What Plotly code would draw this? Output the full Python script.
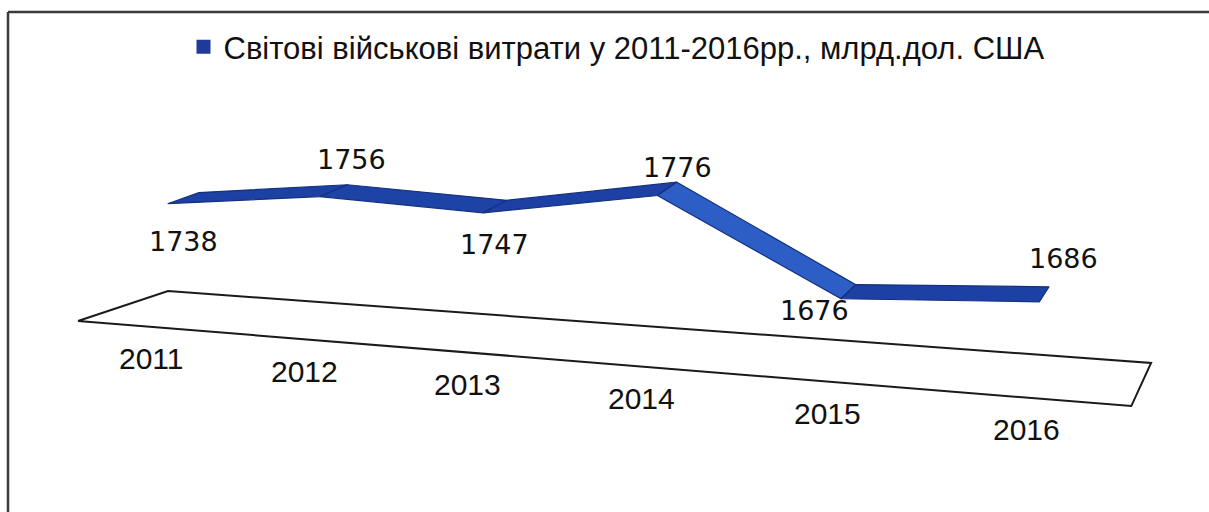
import numpy as np
import plotly.graph_objects as go

# ---------------- data ----------------
years = ["2011", "2012", "2013", "2014", "2015", "2016"]
spending = [1738, 1756, 1747, 1776, 1676, 1686]
series_name = "Світові військові витрати у 2011-2016рр., млрд.дол. США"
value_axis_min = 1600

# ---------------- 3D-look projection (layout parameters) ----------------
W, H = 1209, 512
PERSP = -0.0302            # perspective along the category axis
FLOOR_X0, FLOOR_DX = 151.2, 148.6
FLOOR_Y0, FLOOR_DY = 326.9, 12.0
DEPTH_X0, DEPTH_DX = 85.1, -9.9
DEPTH_Y0, DEPTH_DY = -30.9, -1.84
VALUE_SCALE = 0.83         # px per unit of value at the first category
LEAN = 0.00015
RIBBON_FRONT, RIBBON_BACK = 0.28, 0.64


def project(u, depth, value):
    u = np.asarray(u, dtype=float)
    w = u / (1 + PERSP * u)
    k = 1 / (1 + PERSP * u)
    fx = FLOOR_X0 + FLOOR_DX * w
    fy = FLOOR_Y0 + FLOOR_DY * w
    dx = DEPTH_X0 + DEPTH_DX * w
    dy = DEPTH_Y0 + DEPTH_DY * w
    hpx = (np.asarray(value, dtype=float) - value_axis_min) * VALUE_SCALE * k
    x = fx + depth * dx
    y = fy + depth * dy - hpx
    x = x + (x - 600) * LEAN * hpx
    return x, y


def mix(c1, c2, t):
    a = [int(c1[i:i + 2], 16) for i in (1, 3, 5)]
    b = [int(c2[i:i + 2], 16) for i in (1, 3, 5)]
    return "#" + "".join(f"{round(p + (q - p) * t):02x}" for p, q in zip(a, b))


DARK, LIGHT = "#1d40a4", "#2d5ec6"
EDGE = "#14307e"
label_offsets = [(0, 43), (18, -31), (0, 38), (10, -21), (-34, 19), (19, -36)]
YEAR_DROP = 32

fig = go.Figure()

idx = np.arange(len(years))

# floor outline
cu = [-0.5, 5.5, 5.5, -0.5, -0.5]
cd = [0, 0, 1, 1, 0]
fxs, fys = project(cu, np.array(cd), [value_axis_min] * 5)
fig.add_trace(go.Scatter(x=fxs, y=fys, mode="lines",
                         line=dict(color="#1a1a1a", width=2),
                         hoverinfo="skip", showlegend=False))

# ribbon (top face, one quad per segment)
for i in range(len(years) - 1):
    uu = [idx[i], idx[i + 1], idx[i + 1], idx[i], idx[i]]
    dd = np.array([RIBBON_FRONT, RIBBON_FRONT, RIBBON_BACK, RIBBON_BACK, RIBBON_FRONT])
    vv = [spending[i], spending[i + 1], spending[i + 1], spending[i], spending[i]]
    px, py = project(uu, dd, vv)
    t = float(np.clip(-(spending[i + 1] - spending[i]) / 100.0, 0, 1))
    fig.add_trace(go.Scatter(x=px, y=py, mode="lines", fill="toself",
                             fillcolor=mix(DARK, LIGHT, t),
                             line=dict(color=EDGE, width=1.2),
                             hoverinfo="skip", showlegend=False))

# legend entry
fig.add_trace(go.Scatter(x=[None], y=[None], mode="markers", name=series_name,
                         marker=dict(symbol="square", size=14, color="#1f3a9a",
                                     line=dict(width=0))))

annotations = []
# value labels
mx, my = project(idx, (RIBBON_FRONT + RIBBON_BACK) / 2, spending)
for i, v in enumerate(spending):
    ox, oy = label_offsets[i]
    annotations.append(dict(x=mx[i], y=my[i], text=str(v), showarrow=False,
                            xshift=ox, yshift=-oy,
                            font=dict(family="DejaVu Sans", size=27, color="#111111")))
# category labels
yx, yy = project(idx, 0, [value_axis_min] * len(years))
for i, yr in enumerate(years):
    annotations.append(dict(x=yx[i], y=yy[i], text=yr, showarrow=False,
                            yshift=-YEAR_DROP,
                            font=dict(family="Liberation Sans", size=30, color="#111111")))

frame_line = dict(color="#3a3a3a", width=2.5)
fig.update_layout(
    width=W, height=H,
    margin=dict(l=0, r=0, t=0, b=0),
    paper_bgcolor="white", plot_bgcolor="white",
    xaxis=dict(range=[0, W], visible=False, fixedrange=True),
    yaxis=dict(range=[H, 0], visible=False, fixedrange=True),
    showlegend=True,
    legend=dict(orientation="h", x=0.5 + 12 / W, xanchor="center", y=(H - 47) / H,
                yanchor="middle",
                font=dict(family="Liberation Sans", size=31, color="#111111"),
                bgcolor="rgba(0,0,0,0)", itemwidth=30),
    annotations=annotations,
    shapes=[
        dict(type="line", xref="paper", yref="paper", x0=8 / W, x1=1.0,
             y0=(H - 12) / H, y1=(H - 12) / H, line=frame_line),
        dict(type="line", xref="paper", yref="paper", x0=8 / W, x1=8 / W,
             y0=(H - 12) / H, y1=0.0, line=frame_line),
    ],
)

fig.write_html("out.html", config={"displayModeBar": False},
               post_script="document.body.style.margin='0px';document.body.style.overflow='hidden';")
